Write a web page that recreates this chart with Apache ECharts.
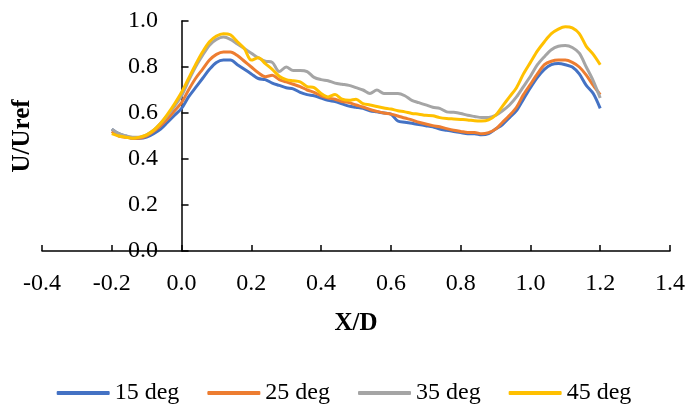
<!DOCTYPE html>
<html>
<head>
<meta charset="utf-8">
<script src="https://cdn.jsdelivr.net/npm/echarts@6/dist/echarts.min.js"></script>
<style>html,body{margin:0;padding:0;background:#fff;}#c{width:688px;height:407px;}</style>
</head>
<body>
<div id="c"></div>
<script>
const xValues = [-0.20,-0.18,-0.16,-0.14,-0.12,-0.10,-0.08,-0.06,-0.04,-0.02,0.00,0.02,0.04,0.06,0.08,0.10,0.12,0.14,0.16,0.18,0.20,0.22,0.24,0.26,0.28,0.30,0.32,0.34,0.36,0.38,0.40,0.42,0.44,0.46,0.48,0.50,0.52,0.54,0.56,0.58,0.60,0.62,0.64,0.66,0.68,0.70,0.72,0.74,0.76,0.78,0.80,0.82,0.84,0.86,0.88,0.90,0.92,0.94,0.96,0.98,1.00,1.02,1.04,1.06,1.08,1.10,1.12,1.14,1.16,1.18,1.20];
const deg15 = [0.53,0.51,0.50,0.49,0.49,0.495,0.51,0.53,0.56,0.59,0.62,0.67,0.71,0.75,0.79,0.82,0.83,0.83,0.81,0.79,0.77,0.75,0.745,0.73,0.72,0.71,0.705,0.69,0.68,0.675,0.665,0.655,0.65,0.64,0.63,0.625,0.62,0.61,0.605,0.60,0.595,0.565,0.56,0.555,0.55,0.545,0.54,0.53,0.525,0.52,0.515,0.51,0.51,0.505,0.51,0.53,0.55,0.58,0.61,0.66,0.71,0.755,0.79,0.81,0.815,0.81,0.80,0.77,0.72,0.685,0.62];
const deg25 = [0.52,0.50,0.495,0.49,0.49,0.50,0.52,0.545,0.575,0.61,0.645,0.70,0.75,0.79,0.83,0.855,0.865,0.865,0.85,0.825,0.80,0.775,0.758,0.764,0.745,0.735,0.725,0.715,0.70,0.69,0.675,0.665,0.66,0.65,0.645,0.635,0.626,0.615,0.607,0.60,0.595,0.587,0.578,0.57,0.56,0.552,0.545,0.54,0.532,0.525,0.52,0.515,0.515,0.51,0.515,0.53,0.56,0.59,0.625,0.68,0.725,0.77,0.81,0.825,0.83,0.83,0.82,0.80,0.765,0.72,0.68];
const deg35 = [0.53,0.51,0.50,0.495,0.495,0.505,0.525,0.555,0.59,0.63,0.675,0.74,0.80,0.85,0.895,0.92,0.93,0.92,0.90,0.88,0.86,0.84,0.825,0.82,0.78,0.80,0.785,0.785,0.78,0.755,0.745,0.74,0.73,0.725,0.72,0.71,0.70,0.685,0.70,0.685,0.685,0.685,0.675,0.655,0.645,0.635,0.625,0.62,0.605,0.603,0.598,0.59,0.585,0.58,0.58,0.59,0.61,0.635,0.67,0.715,0.76,0.81,0.845,0.875,0.89,0.893,0.885,0.86,0.80,0.74,0.665];
const deg45 = [0.51,0.50,0.495,0.49,0.495,0.505,0.525,0.555,0.595,0.64,0.69,0.75,0.81,0.865,0.91,0.935,0.945,0.94,0.91,0.88,0.83,0.84,0.815,0.79,0.76,0.745,0.74,0.735,0.715,0.71,0.685,0.67,0.68,0.66,0.655,0.66,0.641,0.635,0.628,0.622,0.617,0.61,0.605,0.598,0.595,0.59,0.588,0.58,0.576,0.574,0.572,0.57,0.566,0.565,0.57,0.59,0.63,0.67,0.71,0.77,0.82,0.87,0.91,0.945,0.965,0.975,0.97,0.945,0.89,0.855,0.81];
const seriesNames = ['15 deg','25 deg','35 deg','45 deg'];
const seriesColors = ['#4472C4','#ED7D31','#A5A5A5','#FFC000'];
const seriesData = [deg15, deg25, deg35, deg45];

const FONT = '"Liberation Serif", "Times New Roman", serif';
const chart = echarts.init(document.getElementById('c'), null, {renderer:'canvas'});
chart.setOption({
  animation: false,
  backgroundColor: '#ffffff',
  textStyle: {fontFamily: FONT, color: '#000'},
  grid: {left: 42, right: 18, top: 21, bottom: 156, containLabel: false, outerBoundsMode: 'none'},
  legend: {
    top: 376, left: 'center',
    data: seriesNames,
    icon: 'roundRect',
    itemWidth: 53, itemHeight: 4, itemGap: 28,
    textStyle: {fontFamily: FONT, fontSize: 24, color: '#000'}
  },
  xAxis: {
    type: 'value', min: -0.4, max: 1.4, interval: 0.2,
    name: 'X/D', nameLocation: 'middle', nameGap: 60,
    nameTextStyle: {fontFamily: FONT, fontSize: 25, fontWeight: 'bold', color: '#000'},
    axisLine: {show: true, onZero: false, lineStyle: {color: '#000', width: 1.5}},
    axisTick: {show: true, inside: true, length: 6, lineStyle: {color: '#000', width: 1.5}},
    axisLabel: {fontFamily: FONT, fontSize: 24, color: '#000', margin: 21, formatter: v => v.toFixed(1)},
    splitLine: {show: false}
  },
  yAxis: {
    type: 'value', min: 0, max: 1, interval: 0.2,
    name: 'U/Uref', nameLocation: 'middle', nameGap: 7, nameRotate: 90,
    nameTextStyle: {fontFamily: FONT, fontSize: 25, fontWeight: 'bold', color: '#000'},
    axisLine: {show: true, onZero: true, lineStyle: {color: '#000', width: 1.5}},
    axisTick: {show: true, inside: true, length: 7, lineStyle: {color: '#000', width: 1.5}},
    axisLabel: {fontFamily: FONT, fontSize: 24, color: '#000', margin: -116, formatter: v => v.toFixed(1)},
    splitLine: {show: false}
  },
  series: seriesNames.map((n, i) => ({
    name: n, type: 'line', symbol: 'none', smooth: 0.3,
    data: xValues.map((x, j) => [x, seriesData[i][j]]),
    lineStyle: {color: seriesColors[i], width: 3},
    itemStyle: {color: seriesColors[i]}
  }))
});
</script>
</body>
</html>
